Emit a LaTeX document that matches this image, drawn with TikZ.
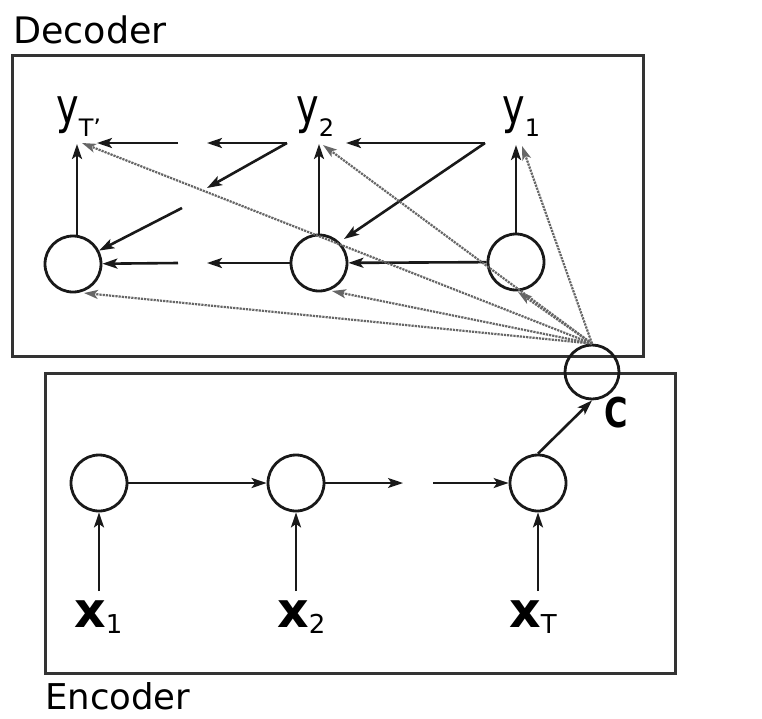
\documentclass[tikz,border=0pt]{standalone}
\usepackage{fontspec}
\setmainfont{DejaVu Sans}
\newfontfamily\varfont[FakeStretch=0.78]{DejaVu Sans}
\usetikzlibrary{arrows.meta}
\newcommand{\ylab}[1]{{\varfont\fontsize{49}{52}\selectfont y}{\fontsize{24}{28}\selectfont\raisebox{-13pt}{#1}}}
\newcommand{\xlab}[1]{{\bfseries\fontsize{49}{52}\selectfont x}{\fontsize{26}{28}\selectfont\raisebox{-6pt}{#1}}}
\tikzset{
  box/.style={draw=black!80, line width=3pt},
  cell/.style={circle, draw=black!90, line width=2.8pt, minimum size=56pt, inner sep=0pt},
  arr/.style={-{Stealth[length=15pt,width=10pt,inset=3.5pt]}, line width=2.6pt, draw=black!90},
  thinarr/.style={arr, line width=1.8pt},
  att/.style={-{Stealth[length=14pt,width=9pt,inset=3.5pt]}, densely dotted, line width=2.2pt, draw=black!60},
  lab/.style={inner sep=0pt, anchor=base west},
}
\begin{document}
\begin{tikzpicture}[x=1pt,y=-1pt]
\useasboundingbox (0,0) rectangle (762,718);
\fill[white] (0,0) rectangle (762,718);

% boxes
\draw[box] (12,55) rectangle (643,356);
\draw[box] (45,373) rectangle (675,673);
\node[lab] (dec) at (13,43) {\fontsize{36.5}{40}\selectfont Decoder};
\node[lab] (enc) at (45,709) {\fontsize{35.5}{40}\selectfont Encoder};

% decoder
\node[cell] (d3) at (73,264) {};
\node[cell] (d2) at (319,263) {};
\node[cell] (d1) at (516,262) {};
\node[lab] (yT) at (56,123) {\ylab{T'}};
\node[lab] (y2) at (296,123) {\ylab{2}};
\node[lab] (y1) at (502,123) {\ylab{1}};

\coordinate (tyT) at (77,144);
\coordinate (tyTr) at (97,143);
\coordinate (ty2) at (319,144);
\coordinate (ty2r) at (346,143);
\coordinate (ty1) at (516,145);
\coordinate (k2) at (287,143);
\coordinate (k2a) at (207,143);
\coordinate (k2b) at (207,188);
\coordinate (kTa) at (178,143);
\coordinate (kTb) at (182,208);
\coordinate (k1) at (485,143);
\coordinate (k1b) at (344,239);
\coordinate (h2) at (207,263);
\coordinate (hT) at (178,263);

\draw[arr] (d3.north -| tyT) -- (tyT);
\draw[arr] (d2) -- (ty2);
\draw[arr] (d1) -- (ty1);
\draw[arr] (k2) -- (k2a);
\draw[arr] (k2) -- (k2b);
\draw[arr] (kTa) -- (tyTr);
\draw[arr] (kTb) -- (d3);
\draw[arr] (k1) -- (ty2r);
\draw[arr] (k1) -- (k1b);
\draw[arr] (d1) -- (d2);
\draw[arr] (d2) -- (h2);
\draw[arr] (hT) -- (d3);

% encoder
\node[cell] (e1) at (99,483) {};
\node[cell] (e2) at (296,483) {};
\node[cell] (eT) at (538,483) {};
\node[cell, minimum size=54pt] (C) at (592,372) {};
\node[lab] (x1) at (74,627) {\xlab{1}};
\node[lab] (x2) at (277,627) {\xlab{2}};
\node[lab] (xT) at (509,627) {\xlab{T}};
\node[lab] (cl) at (604,427) {\varfont\bfseries\fontsize{41}{44}\selectfont C};

\draw[arr] ([yshift=9pt]x1.north -| e1) -- (e1);
\draw[arr] ([yshift=9pt]x2.north -| e2) -- (e2);
\draw[arr] ([yshift=9pt]xT.north -| eT) -- (eT);
\coordinate (ea) at (403,483);
\coordinate (eb) at (433,483);
\draw[arr] (e1) -- (e2);
\draw[thinarr] (e2) -- (ea);
\draw[thinarr] (eb) -- (eT);
\draw[arr] (eT.north) -- (C.south);

% attention (context) links
\coordinate (ayT) at (82,143);
\coordinate (ay2) at (323,145);
\coordinate (ay1) at (522,146);
\coordinate (adT) at (84,293);
\coordinate (ad2) at (332,291);
\coordinate (ad1) at (518,292);
\foreach \t in {ayT,ay2,ay1,adT,ad2,ad1}
  \draw[att] (C.north) -- (\t);
\end{tikzpicture}
\end{document}
